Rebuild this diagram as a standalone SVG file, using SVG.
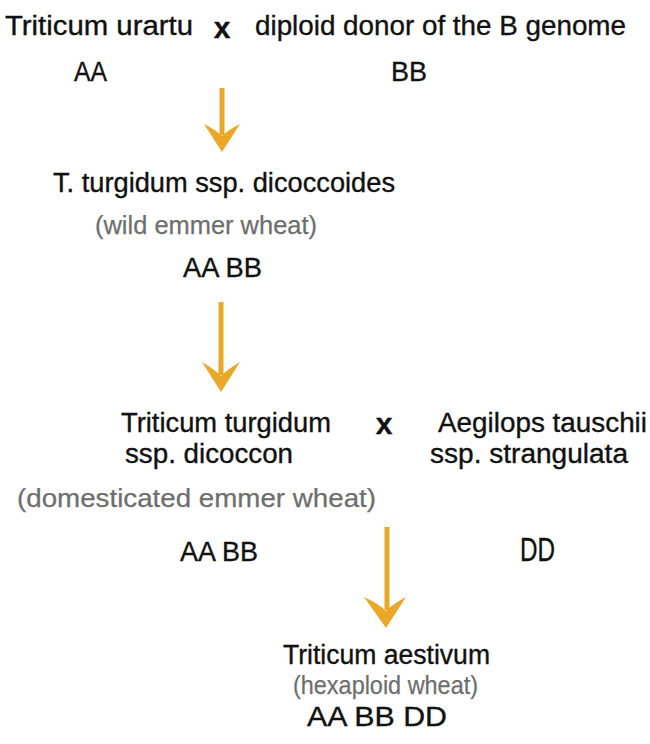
<svg xmlns="http://www.w3.org/2000/svg" width="650" height="744" viewBox="0 0 650 744">
  <style>
    text { font-family: "Liberation Sans", Arial, sans-serif; font-size: 27px; fill: #111111; stroke: #111111; stroke-width: 0.35; }
    .sub { fill: #6e6e6e; stroke: #6e6e6e; stroke-width: 0.25; font-size: 26px; }
    .gen { font-size: 28px; }
    .dd { font-size: 33px; }
    .cross { font-weight: bold; font-size: 30px; text-anchor: middle; }
    .conn line { stroke: #EBA728; stroke-width: 5; }
    .conn path { fill: #EBA728; }
  </style>
  <rect width="650" height="744" fill="#ffffff"/>

  <g id="urartu">
    <text x="5" y="35" textLength="188" lengthAdjust="spacingAndGlyphs">Triticum urartu</text>
    <text class="gen" x="74" y="81" textLength="33" lengthAdjust="spacingAndGlyphs">AA</text>
  </g>
  <g id="cross1"><text class="cross" x="222" y="38">x</text></g>
  <g id="bdonor">
    <text x="255" y="35" textLength="371" lengthAdjust="spacingAndGlyphs">diploid donor of the B genome</text>
    <text class="gen" x="391" y="81" textLength="36" lengthAdjust="spacingAndGlyphs">BB</text>
  </g>

  <g id="dicoccoides">
    <text x="53" y="192" textLength="342" lengthAdjust="spacingAndGlyphs">T. turgidum ssp. dicoccoides</text>
    <text class="sub" x="95" y="234" textLength="222" lengthAdjust="spacingAndGlyphs">(wild emmer wheat)</text>
    <text class="gen" x="183" y="277" textLength="79" lengthAdjust="spacingAndGlyphs">AA BB</text>
  </g>

  <g id="dicoccon">
    <text x="121" y="432" textLength="210" lengthAdjust="spacingAndGlyphs">Triticum turgidum</text>
    <text x="125" y="463" textLength="168" lengthAdjust="spacingAndGlyphs">ssp. dicoccon</text>
    <text class="sub" x="17" y="507" textLength="359" lengthAdjust="spacingAndGlyphs">(domesticated emmer wheat)</text>
    <text class="gen" x="180" y="561" textLength="78" lengthAdjust="spacingAndGlyphs">AA BB</text>
  </g>
  <g id="cross2"><text class="cross" x="384" y="434">x</text></g>
  <g id="tauschii">
    <text x="438" y="432" textLength="209" lengthAdjust="spacingAndGlyphs">Aegilops tauschii</text>
    <text x="430" y="463" textLength="198" lengthAdjust="spacingAndGlyphs">ssp. strangulata</text>
    <text class="dd" x="520" y="561" textLength="35" lengthAdjust="spacingAndGlyphs">DD</text>
  </g>

  <g id="aestivum">
    <text x="283" y="664" textLength="207" lengthAdjust="spacingAndGlyphs">Triticum aestivum</text>
    <text class="sub" x="293" y="694" textLength="185" lengthAdjust="spacingAndGlyphs">(hexaploid wheat)</text>
    <text class="gen" x="307" y="726" textLength="140" lengthAdjust="spacingAndGlyphs">AA BB DD</text>
  </g>

  <g id="connectors" class="conn">
    <line x1="222" y1="88" x2="222" y2="135"/>
    <path d="M222,152 L240,124 Q228,130 222,136 Q216,130 204,124 Z"/>
    <line x1="221" y1="302" x2="221" y2="375"/>
    <path d="M221,392 L240,362 Q228,369 221,376 Q214,369 202,362 Z"/>
    <line x1="387" y1="527" x2="387" y2="610"/>
    <path d="M386,628 L406,597 Q393,604 386,611 Q379,604 364,597 Z"/>
  </g>
</svg>
